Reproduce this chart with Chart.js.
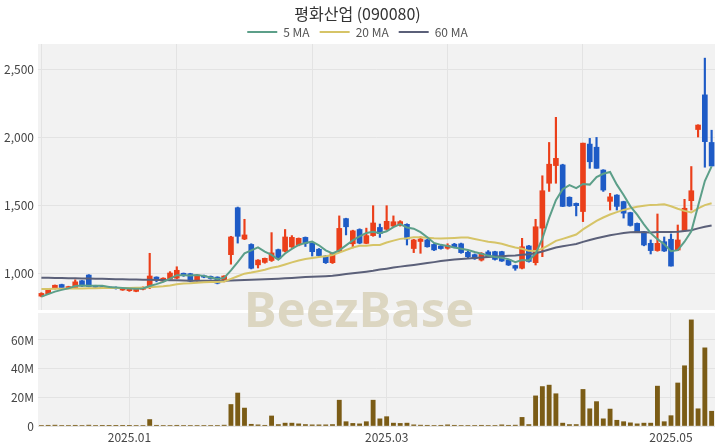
<!DOCTYPE html>
<html>
<head>
<meta charset="utf-8">
<script src="https://cdn.jsdelivr.net/npm/chart.js@4.4.1/dist/chart.umd.min.js"></script>
<style>
html, body { margin: 0; padding: 0; background: #fff; }
#wrap { position: relative; width: 720px; height: 448px; overflow: hidden; }
#top { position: absolute; left: 0; top: 0; width: 720px; height: 311px; }
#bot { position: absolute; left: 0; top: 311px; width: 720px; height: 137px; }
#wm { position: absolute; left: 244px; top: 284px; font: bold 49px 'Noto Sans', sans-serif; line-height: 1; color: #dcd6c1; pointer-events: none; white-space: nowrap; }
</style>
</head>
<body>
<div id="wrap">
  <div id="top"><canvas id="priceChart"></canvas></div>
  <div id="bot"><canvas id="volChart"></canvas></div>
  <div id="wm">BeezBase</div>
</div>
<script>
// 거래일
const dates = [
  '2024-12-11','2024-12-12','2024-12-13','2024-12-16','2024-12-17','2024-12-18','2024-12-19','2024-12-20','2024-12-23','2024-12-24','2024-12-26','2024-12-27','2024-12-30',
  '2025-01-02','2025-01-03','2025-01-06','2025-01-07','2025-01-08','2025-01-09','2025-01-10','2025-01-13','2025-01-14','2025-01-15','2025-01-16','2025-01-17','2025-01-20','2025-01-21','2025-01-22','2025-01-23','2025-01-24','2025-01-31',
  '2025-02-03','2025-02-04','2025-02-05','2025-02-06','2025-02-07','2025-02-10','2025-02-11','2025-02-12','2025-02-13','2025-02-14','2025-02-17','2025-02-18','2025-02-19','2025-02-20','2025-02-21','2025-02-24','2025-02-25','2025-02-26','2025-02-27','2025-02-28',
  '2025-03-04','2025-03-05','2025-03-06','2025-03-07','2025-03-10','2025-03-11','2025-03-12','2025-03-13','2025-03-14','2025-03-17','2025-03-18','2025-03-19','2025-03-20','2025-03-21','2025-03-24','2025-03-25','2025-03-26','2025-03-27','2025-03-28','2025-03-31',
  '2025-04-01','2025-04-02','2025-04-03','2025-04-04','2025-04-07','2025-04-08','2025-04-09','2025-04-10','2025-04-11','2025-04-14','2025-04-15','2025-04-16','2025-04-17','2025-04-18','2025-04-21','2025-04-22','2025-04-23','2025-04-24','2025-04-25','2025-04-28','2025-04-29','2025-04-30',
  '2025-05-02','2025-05-07','2025-05-08','2025-05-09','2025-05-12','2025-05-13','2025-05-14'
];

// 시가 / 고가 / 저가 / 종가
const opens = [830,848,885,915,888,893,943,985,905,900, 897,895,875,870,865,880,892,970,940,955,
  962,998,995,945,980,975,970,940,1135,1480, 1250,1210,1060,1078,1092,1172,1160,1192,1206,1262,
  1218,1175,1125,1076,1157,1400,1215,1320,1218,1275, 1335,1322,1345,1350,1358,1180,1232,1243,1210,1198,
  1182,1212,1215,1152,1135,1095,1155,1157,1157,1096, 1055,1035,1199,1076,1330,1660,1790,1795,1557,1512,
  1452,1948,1925,1757,1527,1573,1525,1444,1365,1304, 1218,1165,1230,1248,1169,1312,1532,2055,2310,1960];
const highs = [855,882,912,918,903,950,945,988,910,903, 900,898,893,885,884,898,1145,972,965,1010,
  1046,1000,998,990,985,978,972,980,1270,1485, 1395,1215,1098,1110,1297,1176,1320,1275,1258,1265,
  1222,1180,1128,1148,1420,1403,1315,1325,1330,1495, 1360,1495,1420,1385,1362,1248,1267,1248,1215,1203,
  1215,1218,1220,1160,1140,1150,1165,1160,1160,1100, 1058,1255,1203,1395,1715,1960,2145,1800,1560,1515,
  1955,1990,1997,1760,1586,1576,1528,1447,1368,1306, 1243,1434,1265,1287,1353,1542,1783,2090,2580,2050];
const lows = [825,845,882,890,885,890,900,898,890,890, 888,882,872,865,862,876,885,935,935,950,
  958,975,935,940,965,955,920,935,1065,1220, 1245,1030,1037,1072,1085,1100,1155,1188,1200,1195,
  1125,1120,1070,1070,1150,1280,1185,1215,1215,1270, 1262,1315,1340,1345,1206,1150,1145,1190,1165,1175,
  1175,1185,1145,1110,1100,1088,1115,1095,1085,1055, 1020,1030,1080,1059,1120,1600,1660,1488,1490,1420,
  1378,1770,1770,1600,1463,1463,1404,1345,1300,1200, 1140,1160,1158,1051,1165,1310,1463,2000,1778,1787];
const closes = [850,880,910,893,900,935,905,900,895,893, 890,885,888,880,880,895,978,958,962,1000,
  1020,982,940,985,970,960,925,978,1265,1270, 1280,1035,1095,1108,1148,1105,1265,1262,1255,1218,
  1157,1128,1076,1145,1328,1340,1310,1220,1275,1368, 1290,1380,1377,1378,1250,1243,1250,1193,1170,1180,
  1203,1190,1150,1120,1105,1145,1120,1100,1088,1059, 1035,1193,1085,1340,1605,1800,1843,1490,1493,1495,
  1955,1818,1770,1610,1560,1490,1440,1350,1304,1206, 1165,1218,1162,1051,1243,1476,1605,2088,1966,1787];

// 이동평균
const ma5 = [826,845,863,876,887,904,909,907,907,906, 897,893,890,887,885,886,904,918,935,959,
  984,984,981,985,979,967,956,964,1020,1080, 1144,1166,1189,1158,1133,1098,1144,1178,1207,1221,
  1231,1204,1167,1145,1167,1203,1240,1269,1295,1303, 1293,1307,1338,1359,1335,1326,1300,1263,1221,1207,
  1199,1187,1179,1169,1154,1142,1128,1118,1112,1102, 1080,1095,1092,1142,1252,1405,1535,1616,1646,1624,
  1655,1650,1706,1730,1743,1650,1574,1490,1429,1358, 1293,1249,1211,1160,1168,1230,1307,1493,1676,1784];
const ma20 = [882,883,884,885,886,886,887,888,888,889, 889,890,890,890,891,892,895,899,903,909,
  917,923,924,929,932,933,934,938,957,976, 995,1003,1013,1024,1038,1048,1063,1078,1092,1103,
  1110,1118,1124,1132,1150,1169,1188,1201,1201,1206, 1206,1224,1238,1251,1256,1263,1263,1259,1255,1253,
  1255,1258,1262,1261,1250,1240,1230,1224,1215,1200, 1187,1178,1163,1161,1179,1207,1236,1251,1267,1283,
  1321,1352,1383,1408,1430,1448,1464,1476,1487,1494, 1501,1502,1506,1491,1473,1457,1445,1475,1499,1513];
const ma60 = [966,965,964,963,962,961,960,959,958,957, 956,955,954,953,952,951,950,949,948,947,
  946,945,944,944,943,943,943,943,945,947, 949,950,952,954,956,958,961,964,967,970,
  972,975,977,980,986,992,998,1003,1009,1016, 1025,1032,1040,1047,1053,1059,1066,1073,1080,1088,
  1094,1099,1103,1107,1111,1114,1118,1121,1124,1127, 1129,1135,1138,1146,1158,1173,1187,1196,1205,1213,
  1229,1243,1256,1267,1277,1286,1294,1300,1301,1300, 1298,1301,1302,1301,1303,1309,1315,1328,1340,1350];

// 거래량 (백만 주)
const volumes = [0.4,0.5,0.6,0.4,0.3,0.5,0.4,0.6,0.3,0.2, 0.2,0.2,0.2,0.2,0.3,0.3,4.5,0.5,0.3,0.4,
  0.5,0.3,0.3,0.3,0.3,0.3,0.3,0.6,15,23, 12.5,1.2,0.8,0.5,7,1,2,2,1.5,1,
  0.8,0.8,0.8,1,18,3,1.8,1.5,3,18, 5,6.5,2,1.8,2,0.8,0.6,0.5,0.4,0.5,
  0.8,0.5,0.4,0.4,0.4,0.5,0.4,0.4,0.8,0.5, 0.6,6,1,21,27.5,28.5,22.5,2,1,1,
  25.5,12,17,5,11.8,4,3,2.2,1.5,2, 2,27.8,3,7.2,30,42,74,12,54.5,10.3];

const priceTicks = [1000, 1500, 2000, 2500];
const volTicks = [0, 20, 40, 60];
const monthTickDates = ['2025-01-02', '2025-03-04', '2025-05-02'];
const monthTickLabels = ['2025.01', '2025.03', '2025.05'];

const upColor = '#eb3f1a';
const downColor = '#1e5bc6';
const gridColor = '#e3e3e3';
const fontFamily = "'Noto Sans CJK KR', 'Noto Sans', sans-serif";
const candleColors = closes.map((c, i) => c >= opens[i] ? upColor : downColor);

// 차트 영역 배경
const bgPlugin = {
  id: 'plotBg',
  beforeDraw(chart) {
    const { ctx, chartArea: a } = chart;
    ctx.save();
    ctx.fillStyle = '#f2f2f2';
    ctx.fillRect(a.left, a.top, a.width, a.height);
    ctx.restore();
  }
};

// y축 폭 고정, 라벨 여백 제거
const fixYAxis = s => { s.width = 38; s.paddingTop = 0; s.paddingBottom = 0; };

new Chart(document.getElementById('priceChart'), {
  type: 'bar',
  data: {
    labels: dates,
    datasets: [
      { type: 'line', label: '5 MA', data: ma5, borderColor: '#5c9f89', backgroundColor: '#5c9f89', borderWidth: 2, pointRadius: 0, order: 0 },
      { type: 'line', label: '20 MA', data: ma20, borderColor: '#d6c467', backgroundColor: '#d6c467', borderWidth: 2, pointRadius: 0, order: 0 },
      { type: 'line', label: '60 MA', data: ma60, borderColor: '#5b6079', backgroundColor: '#5b6079', borderWidth: 2, pointRadius: 0, order: 0 },
      { label: 'wick', data: lows.map((l, i) => [l, highs[i]]), backgroundColor: candleColors, barThickness: 1.5, grouped: false, order: 2 },
      { label: 'body', data: opens.map((o, i) => [o, closes[i]]), backgroundColor: candleColors, barThickness: 5, minBarLength: 1, grouped: false, order: 1 }
    ]
  },
  options: {
    responsive: true,
    maintainAspectRatio: false,
    animation: false,
    layout: { autoPadding: false, padding: { left: 0, right: 5, top: 0, bottom: 1 } },
    plugins: {
      title: {
        display: true,
        text: '평화산업 (090080)',
        color: '#333',
        font: { family: fontFamily, size: 16, weight: 'normal' },
        padding: { top: 4, bottom: -7.2 }
      },
      legend: {
        display: true,
        maxHeight: 28,
        labels: {
          boxWidth: 30,
          boxHeight: 2,
          padding: 10,
          color: '#555',
          font: { family: fontFamily, size: 12 },
          generateLabels: chart => Chart.defaults.plugins.legend.labels.generateLabels(chart)
            .filter(l => l.datasetIndex < 3)
            .map(l => Object.assign(l, { fillStyle: l.strokeStyle, lineWidth: 0 }))
        }
      },
      tooltip: { enabled: false }
    },
    scales: {
      x: {
        offset: true,
        grid: { offset: false, drawTicks: false, color: c => c.index % 20 === 0 ? gridColor : 'rgba(0,0,0,0)' },
        ticks: { display: false, autoSkip: false },
        border: { display: false },
        afterFit: s => { s.height = 0; s.paddingLeft = 0; s.paddingRight = 0; }
      },
      y: {
        min: 728,
        max: 2684,
        afterBuildTicks: s => { s.ticks = priceTicks.map(v => ({ value: v })); },
        ticks: { callback: v => v.toLocaleString('en-US'), color: '#444', padding: 4, font: { family: fontFamily, size: 12 } },
        grid: { color: gridColor, drawTicks: false },
        border: { display: false },
        afterFit: fixYAxis
      }
    }
  },
  plugins: [bgPlugin]
});

new Chart(document.getElementById('volChart'), {
  type: 'bar',
  data: {
    labels: dates,
    datasets: [{ label: '거래량', data: volumes, backgroundColor: '#7b5c16', barThickness: 4.2 }]
  },
  options: {
    responsive: true,
    maintainAspectRatio: false,
    animation: false,
    layout: { autoPadding: false, padding: { left: 0, right: 5, top: 2, bottom: 0 } },
    plugins: { legend: { display: false }, tooltip: { enabled: false } },
    scales: {
      x: {
        offset: true,
        grid: { offset: false, drawTicks: false, color: c => monthTickDates.includes(dates[c.index]) ? gridColor : 'rgba(0,0,0,0)' },
        ticks: {
          autoSkip: false,
          maxRotation: 0,
          padding: 4,
          color: '#444',
          font: { family: fontFamily, size: 12 },
          callback: (v, i) => {
            const k = monthTickDates.indexOf(dates[i]);
            return k >= 0 ? monthTickLabels[k] : '';
          }
        },
        border: { display: false },
        afterFit: s => { s.height = 22; s.paddingLeft = 0; s.paddingRight = 0; }
      },
      y: {
        min: 0,
        max: 78.8,
        afterBuildTicks: s => { s.ticks = volTicks.map(v => ({ value: v })); },
        ticks: { callback: v => v === 0 ? '0' : v + 'M', color: '#444', padding: 4, font: { family: fontFamily, size: 12 } },
        grid: { color: gridColor, drawTicks: false },
        border: { display: false },
        afterFit: fixYAxis
      }
    }
  },
  plugins: [bgPlugin]
});
</script>
</body>
</html>
